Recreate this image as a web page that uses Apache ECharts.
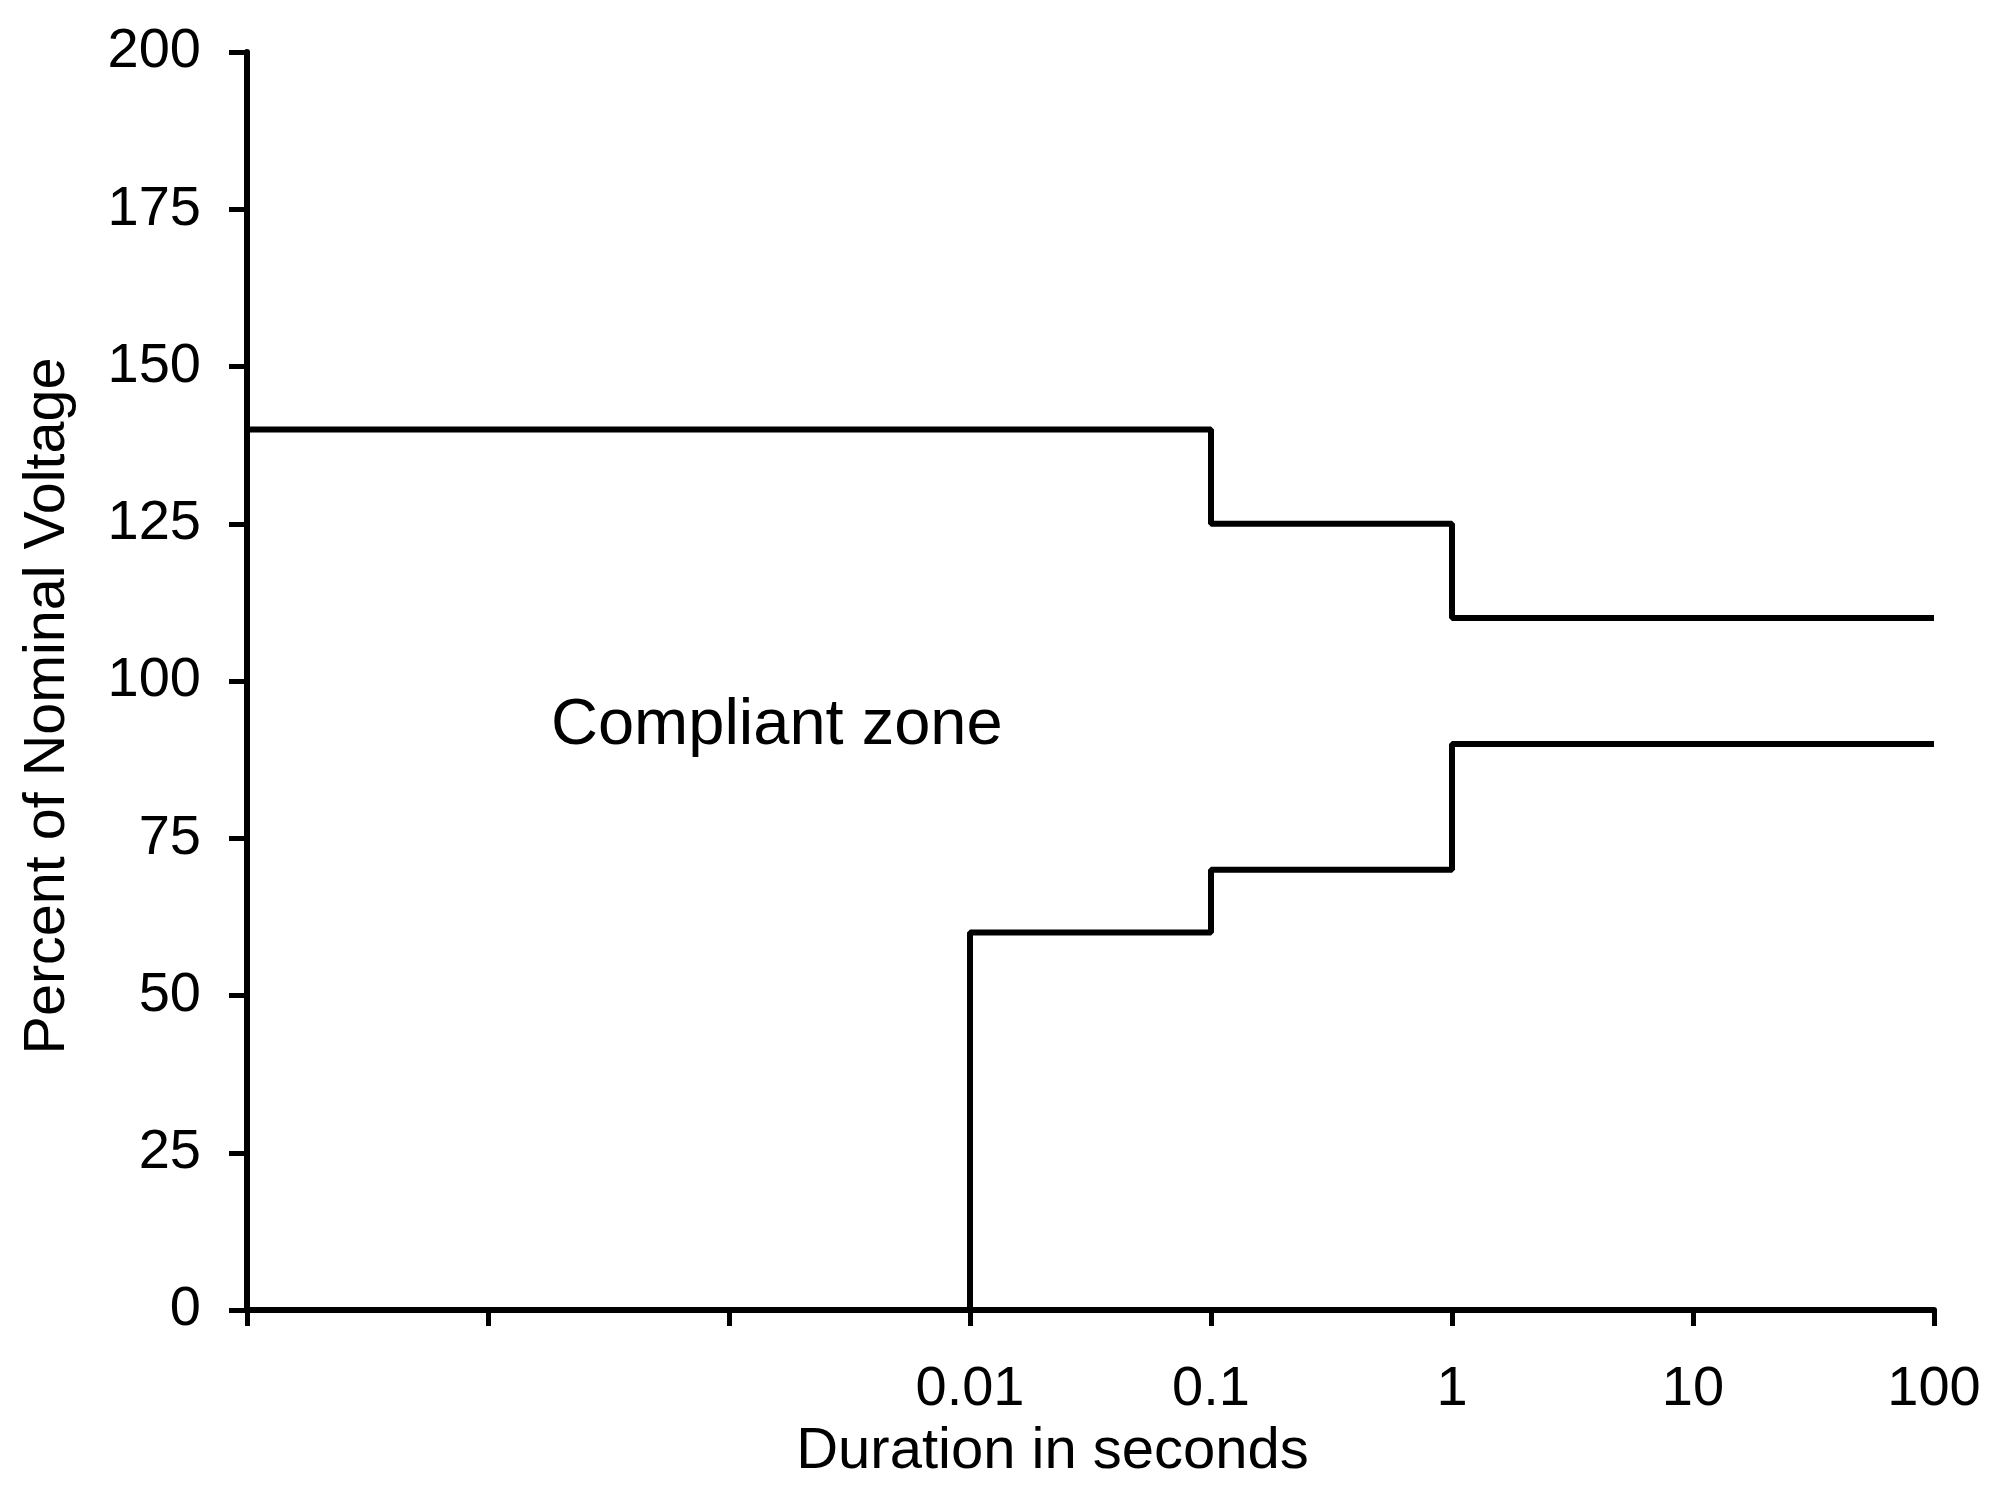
<!DOCTYPE html>
<html>
<head>
<meta charset="utf-8">
<script src="https://cdn.jsdelivr.net/npm/echarts@6/dist/echarts.min.js"></script>
<style>
html,body{margin:0;padding:0;background:#fff;}
#c{width:2013px;height:1492px;}
</style>
</head>
<body>
<div id="c"></div>
<script>
// Upper limit: step edges (seconds) and levels (% of nominal)
var upperX = [0.00001, 0.1, 1, 100];
var upperY = [140, 125, 110, 110];
// Lower limit: step edges and levels (starts from 0 at 0.01 s)
var lowerX = [0.01, 0.1, 1, 100];
var lowerY = [0, 60, 70, 90];
var yTicks = [0, 25, 50, 75, 100, 125, 150, 175, 200];
var xTitle = 'Duration in seconds';
var yTitle = 'Percent of Nominal Voltage';
var zoneLabel = 'Compliant zone';

function pairs(xs, ys) { return xs.map(function (x, i) { return [x, ys[i]]; }); }

var FONT = 'Liberation Sans, Arial, sans-serif';
var chart = echarts.init(document.getElementById('c'), null, {renderer: 'canvas'});
chart.setOption({
  backgroundColor: '#ffffff',
  animation: false,
  grid: {left: 247, right: 79, top: 52, bottom: 182, containLabel: false},
  xAxis: {
    type: 'log', logBase: 10, min: 0.00001, max: 100, interval: 1,
    name: xTitle, nameLocation: 'middle', nameGap: 112,
    nameTextStyle: {color: '#000', fontSize: 58, fontFamily: FONT, padding: [0, 76, 0, 0]},
    axisLine: {show: true, lineStyle: {color: '#000', width: 6}},
    axisTick: {show: true, inside: false, length: 16, lineStyle: {color: '#000', width: 5}},
    axisLabel: {
      color: '#000', fontSize: 56, fontFamily: FONT, margin: 52,
      formatter: function (v) {
        var e = Math.round(Math.log10(v));
        if (e < -2) return '';
        return e < 0 ? v.toFixed(-e) : String(Math.round(v));
      }
    },
    splitLine: {show: false}, minorTick: {show: false}
  },
  yAxis: {
    type: 'value', min: yTicks[0], max: yTicks[yTicks.length - 1], interval: 25,
    name: yTitle, nameLocation: 'middle', nameRotate: 90, nameGap: 170,
    nameTextStyle: {color: '#000', fontSize: 57.5, fontFamily: FONT, padding: [0, 50, 0, 0]},
    axisLine: {show: true, lineStyle: {color: '#000', width: 6}},
    axisTick: {show: true, inside: false, length: 18, lineStyle: {color: '#000', width: 5}},
    axisLabel: {color: '#000', fontSize: 56, fontFamily: FONT, margin: 46},
    splitLine: {show: false}
  },
  series: [
    {
      type: 'line', name: 'Upper', step: 'end', data: pairs(upperX, upperY),
      showSymbol: false, symbol: 'none',
      lineStyle: {color: '#000', width: 6}
    },
    {
      type: 'line', name: 'Lower', step: 'start', data: pairs(lowerX, lowerY),
      showSymbol: false, symbol: 'none',
      lineStyle: {color: '#000', width: 6}
    }
  ],
  graphic: [{
    type: 'text', left: 551, top: 694,
    style: {text: zoneLabel, fill: '#000', font: '65px ' + FONT}
  }]
});
</script>
</body>
</html>
